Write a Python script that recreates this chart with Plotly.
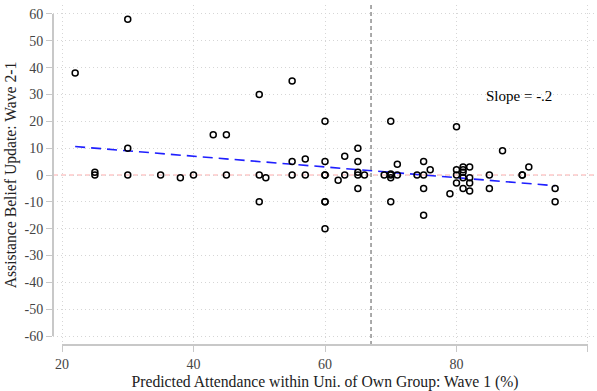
import plotly.graph_objects as go

# Scatter data: predicted attendance (x) vs belief update (y)
att = [22, 30, 50, 55,
       25, 25, 30, 30, 35, 38, 40, 43, 45, 45,
       50, 50, 51, 55, 55, 57, 57,
       60, 60, 60, 60, 60, 60, 60,
       62, 63, 63, 65, 65, 65, 65, 65, 66,
       69, 70, 70, 70, 70, 70, 71, 71,
       74, 75, 75, 75, 75, 76,
       79, 80, 80, 80, 80,
       81, 81, 81, 81, 81,
       82, 82, 82, 82,
       85, 85, 87, 90, 90, 91, 95, 95]
upd = [38, 58, 30, 35,
       1, 0, 10, 0, 0, -1, 0, 15, 15, 0,
       0, -10, -1, 5, 0, 6, 0,
       20, 5, 0, 0, -10, -10, -20,
       -2, 7, 0, 10, 5, 1, 0, -5, 0,
       0, 20, 0, -1, 0.4, -10, 4, 0,
       0, 5, 0, -5, -15, 2,
       -7, 18, 2, 0, -3,
       3, 2, 1, -1, -5,
       3, -1, -3, -6,
       0, -5, 9, 0, 0, 3, -5, -10]

# Fitted line endpoints (slope about -.2)
fit_x = [22, 95]
fit_y = [10.6, -4.0]

vline_x = 67
slope_label = "Slope = -.2"
x_ticks = [20, 40, 60, 80, 100]
x_ticktext = ["20", "40", "60", "80", "100"]
y_ticks = [60, 50, 40, 30, 20, 10, 0, -10, -20, -30, -40, -50, -60]
y_ticktext = ["60", "50", "40", "30", "20", "10", "0",
              "-10", "-20", "-30", "-40", "-50", "-60"]

FONT = "Liberation Serif, Times New Roman, serif"

fig = go.Figure()

fig.add_trace(go.Scatter(
    x=fit_x, y=fit_y, mode="lines",
    line=dict(color="#1f1fff", width=1.6, dash="10px,6px"),
    hoverinfo="skip", showlegend=False))

fig.add_trace(go.Scatter(
    x=att, y=upd, mode="markers",
    marker=dict(symbol="circle-open", size=6, color="black",
                line=dict(color="black", width=1.5)),
    showlegend=False))

# reference lines
fig.add_shape(type="line", xref="paper", x0=0, x1=1, yref="y", y0=0, y1=0,
              line=dict(color="#ffaaaa", width=1, dash="5px,3px"), layer="below")
fig.add_shape(type="line", xref="x", x0=vline_x, x1=vline_x, yref="paper", y0=0, y1=1,
              line=dict(color="#555555", width=1, dash="4px,3px"))
# axis lines (offset Stata style)
fig.add_shape(type="line", xref="paper", x0=0, x1=0, yref="y", y0=-60, y1=60,
              line=dict(color="#c8c8c8", width=2))
fig.add_shape(type="line", xref="x", x0=20, x1=100, yref="paper", y0=0, y1=0,
              line=dict(color="#c8c8c8", width=2))

fig.add_annotation(x=89.5, y=29.5, xref="x", yref="y", text=slope_label,
                   showarrow=False, font=dict(family=FONT, size=15, color="black"))

fig.update_layout(
    width=597, height=391,
    margin=dict(l=53, r=0, t=5, b=46),
    paper_bgcolor="white", plot_bgcolor="white",
    font=dict(family=FONT, color="#333333"),
    xaxis=dict(range=[18.63, 101.37], tickvals=x_ticks, ticktext=x_ticktext,
               ticks="outside", ticklen=6, tickcolor="#c8c8c8", tickwidth=1,
               showgrid=True, gridcolor="#d6d6d6", griddash="1px,3px", gridwidth=1,
               zeroline=False, showline=False,
               tickfont=dict(family=FONT, size=14, color="#444444"),
               title=dict(text="Predicted Attendance within Uni. of Own Group: Wave 1 (%)",
                          font=dict(family=FONT, size=15.7, color="#222222"), standoff=5)),
    yaxis=dict(range=[-63.35, 63.35], tickvals=y_ticks, ticktext=y_ticktext,
               ticks="outside", ticklen=6, tickcolor="#c8c8c8", tickwidth=1,
               showgrid=True, gridcolor="#d6d6d6", griddash="1px,3px", gridwidth=1,
               zeroline=False, showline=False,
               tickfont=dict(family=FONT, size=14, color="#444444"),
               title=dict(text="Assistance Belief Update: Wave 2-1",
                          font=dict(family=FONT, size=15.7, color="#222222"), standoff=4)),
)

fig.write_html("out.html")
